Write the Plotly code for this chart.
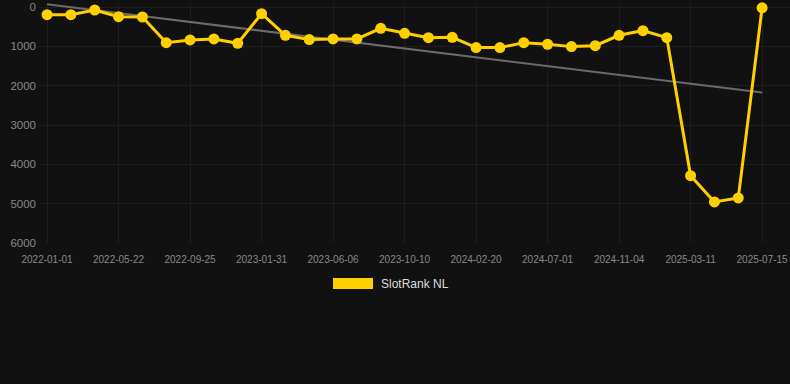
import numpy as np
import plotly.graph_objects as go

dates = [
    "2022-01-01", "2022-02-17", "2022-04-05", "2022-05-22", "2022-07-03", "2022-08-14",
    "2022-09-25", "2022-11-07", "2022-12-19", "2023-01-31", "2023-03-14", "2023-04-25",
    "2023-06-06", "2023-07-18", "2023-08-29", "2023-10-10", "2023-11-24", "2024-01-07",
    "2024-02-20", "2024-04-04", "2024-05-18", "2024-07-01", "2024-08-12", "2024-09-23",
    "2024-11-04", "2024-12-16", "2025-01-27", "2025-03-11", "2025-04-22", "2025-06-03",
    "2025-07-15",
]
rank = [
    195, 195, 76, 246, 254, 906, 838, 812, 922, 170, 719, 829, 812, 812, 541, 668,
    779, 770, 1032, 1032, 906, 947, 1007, 982, 719, 601, 779, 4289, 4957, 4855, 20,
]
tick_labels = dates[::3]
y_ticks = [0, 1000, 2000, 3000, 4000, 5000, 6000]
series_name = "SlotRank NL"

idx = np.arange(len(rank))
slope, intercept = np.polyfit(idx, rank, 1)
trend = slope * idx + intercept

fig = go.Figure()
fig.add_trace(go.Scatter(
    x=dates, y=trend, mode="lines",
    line=dict(color="#6b6b6b", width=2),
    showlegend=False, hoverinfo="skip",
))
fig.add_trace(go.Scatter(
    x=dates, y=rank, mode="lines+markers", name=series_name,
    line=dict(color="#FFD000", width=3),
    marker=dict(color="#FFD000", size=11),
    showlegend=False, cliponaxis=False,
))

L, T, B = 38, 3, 141
W, H = 790, 384
pw, ph = W - L, H - T - B

def px(x):
    return (x - L) / pw

def py(y):
    return (H - B - y) / ph

fig.add_shape(type="rect", xref="paper", yref="paper",
              x0=px(333), x1=px(373), y0=py(289), y1=py(278),
              fillcolor="#FFD000", line=dict(width=0))
fig.add_annotation(xref="paper", yref="paper", x=px(379), y=py(284),
                   text=series_name, showarrow=False, xanchor="left", yanchor="middle",
                   font=dict(size=12, color="#dddddd", family="Liberation Sans"))

fig.update_layout(
    width=W, height=H,
    margin=dict(l=L, r=0, t=T, b=B),
    paper_bgcolor="#111111", plot_bgcolor="#111111",
    font=dict(family="Liberation Sans", color="#888888"),
    xaxis=dict(
        type="category", range=[-0.38, 31.17],
        tickmode="array", tickvals=tick_labels, ticktext=tick_labels,
        showgrid=True, gridcolor="#1e1e1e", gridwidth=1,
        zeroline=False, showline=False, ticks="",
        ticklabelstandoff=9,
        tickfont=dict(size=10, color="#888888"),
    ),
    yaxis=dict(
        range=[6000, -102], tickvals=y_ticks,
        showgrid=True, gridcolor="#1e1e1e", gridwidth=1,
        zeroline=False, showline=False, ticks="",
        ticklabelstandoff=1,
        tickfont=dict(size=11.5, color="#888888"),
    ),
    showlegend=False,
)

fig.write_html(
    "out.html",
    config={"displayModeBar": False},
    post_script="document.body.style.margin='0';document.body.style.background='#111111';",
)
